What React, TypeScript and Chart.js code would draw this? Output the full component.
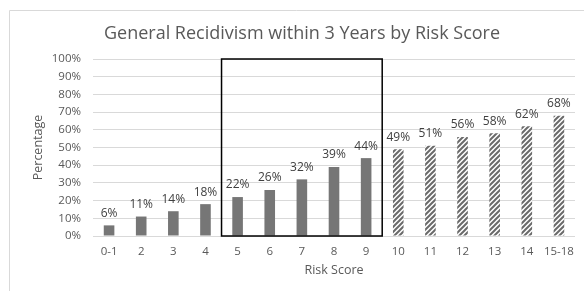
import { useEffect, useRef } from "react";
import { Chart, registerables } from "chart.js";

Chart.register(...registerables);

const titleText = "General Recidivism within 3 Years by Risk Score";
const categories = ["0-1", "2", "3", "4", "5", "6", "7", "8", "9", "10", "11", "12", "13", "14", "15-18"];
const recidivismPct = [6, 11, 14, 18, 22, 26, 32, 39, 44, 49, 51, 56, 58, 62, 68];
const hatchedCategories = ["10", "11", "12", "13", "14", "15-18"];
const boxedCategories = ["5", "6", "7", "8", "9"];
const yMax = 100;
const yStep = 10;

const FONT = "'Open Sans', 'Liberation Sans', sans-serif";

function makeHatch(): CanvasPattern | string {
  const c = document.createElement("canvas");
  c.width = 5;
  c.height = 5;
  const g = c.getContext("2d");
  if (!g) return "#7f7f7f";
  g.fillStyle = "#ffffff";
  g.fillRect(0, 0, 5, 5);
  g.strokeStyle = "#6a6a6a";
  g.lineWidth = 2;
  g.beginPath();
  g.moveTo(-1, 6);
  g.lineTo(6, -1);
  g.moveTo(-1, 1);
  g.lineTo(1, -1);
  g.moveTo(4, 6);
  g.lineTo(6, 4);
  g.stroke();
  const p = g.createPattern(c, "repeat");
  return p || "#7f7f7f";
}

export default function App() {
  const ref = useRef<HTMLCanvasElement | null>(null);

  useEffect(() => {
    if (!ref.current) return;
    const hatch = makeHatch();
    const colors = categories.map((c) => (hatchedCategories.includes(c) ? hatch : "#767676"));

    const overlay = {
      id: "overlay",
      beforeDraw(chart: any) {
        const { ctx, width, height } = chart;
        ctx.save();
        ctx.strokeStyle = "#d9d9d9";
        ctx.lineWidth = 1;
        ctx.beginPath();
        ctx.moveTo(9.5, height);
        ctx.lineTo(9.5, 10.5);
        ctx.lineTo(width, 10.5);
        ctx.stroke();
        ctx.fillStyle = "#595959";
        ctx.font = `18px ${FONT}`;
        ctx.textAlign = "center";
        ctx.textBaseline = "middle";
        ctx.fillText(titleText, 302, 34);
        ctx.restore();
      },
      afterDatasetsDraw(chart: any) {
        const { ctx } = chart;
        const xs = chart.scales.x;
        const ys = chart.scales.y;
        const meta = chart.getDatasetMeta(0);
        ctx.save();
        ctx.fillStyle = "#404040";
        ctx.font = `12px ${FONT}`;
        ctx.textAlign = "center";
        ctx.textBaseline = "middle";
        meta.data.forEach((bar: any, i: number) => {
          ctx.fillText(recidivismPct[i] + "%", bar.x, bar.y - 12);
        });
        const i0 = categories.indexOf(boxedCategories[0]);
        const i1 = categories.indexOf(boxedCategories[boxedCategories.length - 1]);
        const left = (xs.getPixelForValue(i0 - 1) + xs.getPixelForValue(i0)) / 2;
        const right = (xs.getPixelForValue(i1) + xs.getPixelForValue(i1 + 1)) / 2;
        const top = ys.getPixelForValue(yMax);
        const bottom = ys.getPixelForValue(0);
        ctx.strokeStyle = "#000000";
        ctx.lineWidth = 1.5;
        ctx.strokeRect(left, top, right - left, bottom - top);
        ctx.restore();
      },
    };

    const chart = new Chart(ref.current, {
      type: "bar",
      data: {
        labels: categories,
        datasets: [
          {
            data: recidivismPct,
            backgroundColor: colors as any,
            borderWidth: 0,
            barPercentage: 0.33,
            categoryPercentage: 1,
          },
        ],
      },
      options: {
        animation: false,
        responsive: true,
        maintainAspectRatio: false,
        layout: { padding: { left: 0, right: 9, top: 59, bottom: 0 } },
        plugins: { legend: { display: false }, tooltip: { enabled: false }, title: { display: false } },
        scales: {
          x: {
            grid: { display: false, drawTicks: false },
            border: { display: false },
            ticks: { color: "#595959", font: { family: FONT, size: 11.5 }, padding: 9, maxRotation: 0, autoSkip: false },
            title: {
              display: true,
              text: "Risk Score",
              color: "#595959",
              font: { family: FONT, size: 12.5 },
              padding: { top: 0, bottom: 13 },
            },
            afterFit: (s: any) => {
              s.height = 55;
            },
          },
          y: {
            min: 0,
            max: yMax,
            grid: { color: "#d9d9d9", drawTicks: false },
            border: { display: false },
            ticks: {
              stepSize: yStep,
              color: "#595959",
              font: { family: FONT, size: 11.5 },
              padding: 12,
              callback: (v: any) => v + "%",
            },
            title: {
              display: true,
              text: "Percentage",
              color: "#595959",
              font: { family: FONT, size: 12.5 },
              padding: { top: 31, bottom: 0 },
            },
            afterFit: (s: any) => {
              s.width = 93;
            },
          },
        },
      },
      plugins: [overlay],
    });
    return () => chart.destroy();
  }, []);

  return (
    <div style={{ position: "fixed", left: 0, top: 0, width: 584, height: 291, background: "#ffffff" }}>
      <canvas ref={ref} style={{ width: 584, height: 291 }} />
    </div>
  );
}
